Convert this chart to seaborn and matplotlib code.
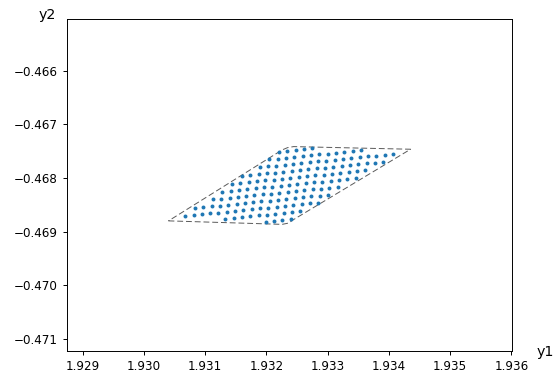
import matplotlib
matplotlib.use("Agg")
import matplotlib.pyplot as plt
import seaborn as sns
import pandas as pd

# ---- data (y1 = horizontal, y2 = vertical) ----
pts_y1 = [
    # row 1 (top)
    1.932209, 1.932345, 1.932481, 1.932617, 1.932752,
    # row 2
    1.932051, 1.932187, 1.932323, 1.932459, 1.932595, 1.932731, 1.932867, 1.933003,
    1.933138, 1.933274, 1.933410, 1.933546,
    # row 3
    1.931893, 1.932029, 1.932165, 1.932301, 1.932437, 1.932573, 1.932709, 1.932845,
    1.932981, 1.933117, 1.933253, 1.933389, 1.933525, 1.933661, 1.933796, 1.933932,
    1.934068,
    # row 4
    1.931600, 1.931736, 1.931872, 1.932007, 1.932143, 1.932279, 1.932415, 1.932551,
    1.932687, 1.932823, 1.932959, 1.933095, 1.933231, 1.933367, 1.933503, 1.933639,
    1.933775, 1.933911,
    # row 5
    1.931442, 1.931578, 1.931714, 1.931850, 1.931986, 1.932122, 1.932258, 1.932394,
    1.932530, 1.932665, 1.932801, 1.932937, 1.933073, 1.933209, 1.933345, 1.933481,
    1.933617,
    # row 6
    1.931284, 1.931420, 1.931556, 1.931692, 1.931828, 1.931964, 1.932100, 1.932236,
    1.932372, 1.932508, 1.932644, 1.932780, 1.932916, 1.933051, 1.933187, 1.933323,
    1.933459,
    # row 7
    1.931127, 1.931263, 1.931399, 1.931534, 1.931670, 1.931806, 1.931942, 1.932078,
    1.932214, 1.932350, 1.932486, 1.932622, 1.932758, 1.932894, 1.933030, 1.933166,
    # row 8
    1.930833, 1.930969, 1.931105, 1.931241, 1.931377, 1.931513, 1.931649, 1.931785,
    1.931920, 1.932056, 1.932192, 1.932328, 1.932464, 1.932600, 1.932736, 1.932872,
    1.933008,
    # row 9
    1.930675, 1.930811, 1.930947, 1.931083, 1.931219, 1.931355, 1.931491, 1.931627,
    1.931763, 1.931899, 1.932035, 1.932171, 1.932307, 1.932442, 1.932578, 1.932714,
    1.932850,
    # row 10
    1.931333, 1.931469, 1.931605, 1.931741, 1.931877, 1.932013, 1.932149, 1.932285,
    1.932421, 1.932557,
    # row 11 (bottom)
    1.931991, 1.932127, 1.932263, 1.932399,
]
pts_y2 = [
    # row 1 (top)
    -0.467508, -0.467492, -0.467477, -0.467461, -0.467446,
    # row 2
    -0.467654, -0.467638, -0.467623, -0.467607, -0.467592, -0.467576, -0.467561, -0.467545,
    -0.467530, -0.467514, -0.467499, -0.467483,
    # row 3
    -0.467800, -0.467784, -0.467769, -0.467753, -0.467738, -0.467722, -0.467707, -0.467691,
    -0.467676, -0.467660, -0.467645, -0.467629, -0.467614, -0.467598, -0.467582, -0.467567,
    -0.467551,
    # row 4
    -0.467961, -0.467945, -0.467930, -0.467914, -0.467899, -0.467883, -0.467868, -0.467852,
    -0.467837, -0.467821, -0.467806, -0.467790, -0.467775, -0.467759, -0.467744, -0.467728,
    -0.467713, -0.467697,
    # row 5
    -0.468107, -0.468091, -0.468076, -0.468060, -0.468045, -0.468029, -0.468014, -0.467998,
    -0.467983, -0.467967, -0.467952, -0.467936, -0.467921, -0.467905, -0.467890, -0.467874,
    -0.467859,
    # row 6
    -0.468253, -0.468237, -0.468222, -0.468206, -0.468191, -0.468175, -0.468160, -0.468144,
    -0.468129, -0.468113, -0.468098, -0.468082, -0.468067, -0.468051, -0.468036, -0.468020,
    -0.468005,
    # row 7
    -0.468399, -0.468383, -0.468368, -0.468352, -0.468337, -0.468321, -0.468306, -0.468290,
    -0.468275, -0.468259, -0.468243, -0.468228, -0.468212, -0.468197, -0.468181, -0.468166,
    # row 8
    -0.468560, -0.468544, -0.468529, -0.468513, -0.468498, -0.468482, -0.468467, -0.468451,
    -0.468436, -0.468420, -0.468405, -0.468389, -0.468374, -0.468358, -0.468343, -0.468327,
    -0.468312,
    # row 9
    -0.468706, -0.468690, -0.468675, -0.468659, -0.468644, -0.468628, -0.468613, -0.468597,
    -0.468582, -0.468566, -0.468551, -0.468535, -0.468520, -0.468504, -0.468489, -0.468473,
    -0.468458,
    # row 10
    -0.468759, -0.468743, -0.468728, -0.468712, -0.468697, -0.468681, -0.468666, -0.468650,
    -0.468635, -0.468619,
    # row 11 (bottom)
    -0.468811, -0.468796, -0.468780, -0.468765,
]

# outline (dashed hull), closed
hull_y1 = [1.930403, 1.932258, 1.932364, 1.932437, 1.934354, 1.932445, 1.932347, 1.932258, 1.930403]
hull_y2 = [-0.468799, -0.468864, -0.468840, -0.468780, -0.467464, -0.467415, -0.467434, -0.467477, -0.468799]

x_ticks = [1.929, 1.930, 1.931, 1.932, 1.933, 1.934, 1.935, 1.936]
y_ticks = [-0.466, -0.467, -0.468, -0.469, -0.470, -0.471]
x_label = "y1"
y_label = "y2"

# ---- figure ----
plt.rcParams["font.family"] = ["DejaVu Sans"]
fig = plt.figure(figsize=(5.55, 3.79), dpi=100)
ax = fig.add_axes([67 / 555, 1 - 351 / 379, 445 / 555, 332 / 379])

pts = pd.DataFrame({"y1": pts_y1, "y2": pts_y2})
hull = pd.DataFrame({"y1": hull_y1, "y2": hull_y2})

sns.lineplot(data=hull, x="y1", y="y2", sort=False, estimator=None, ax=ax,
             color="0.35", linewidth=0.7, dashes=False)
ax.lines[-1].set_linestyle((0, (6, 3)))
sns.scatterplot(data=pts, x="y1", y="y2", ax=ax, color="#1f77b4", s=8,
                linewidth=0, zorder=3)

ax.set_xlim(1.928746, 1.936010)
ax.set_ylim(-0.471224, -0.465037)
ax.set_xticks(x_ticks)
ax.set_yticks(y_ticks)
ax.set_xticklabels([f"{v:.3f}" for v in x_ticks])
ax.set_yticklabels([f"\u2212{abs(v):.3f}" for v in y_ticks])
ax.tick_params(labelsize=8.6, length=3.0, width=0.7)
for sp in ax.spines.values():
    sp.set_linewidth(0.7)

ax.set_xlabel(x_label, fontsize=10.3)
ax.xaxis.label.set_verticalalignment("center")
ax.xaxis.set_label_coords(1.074, -0.003)
ax.set_ylabel(y_label, fontsize=10.3, rotation=0)
ax.yaxis.label.set_verticalalignment("center")
ax.yaxis.label.set_horizontalalignment("center")
ax.yaxis.set_label_coords(-0.045, 1.012)

fig.savefig("out.png", dpi=100)
